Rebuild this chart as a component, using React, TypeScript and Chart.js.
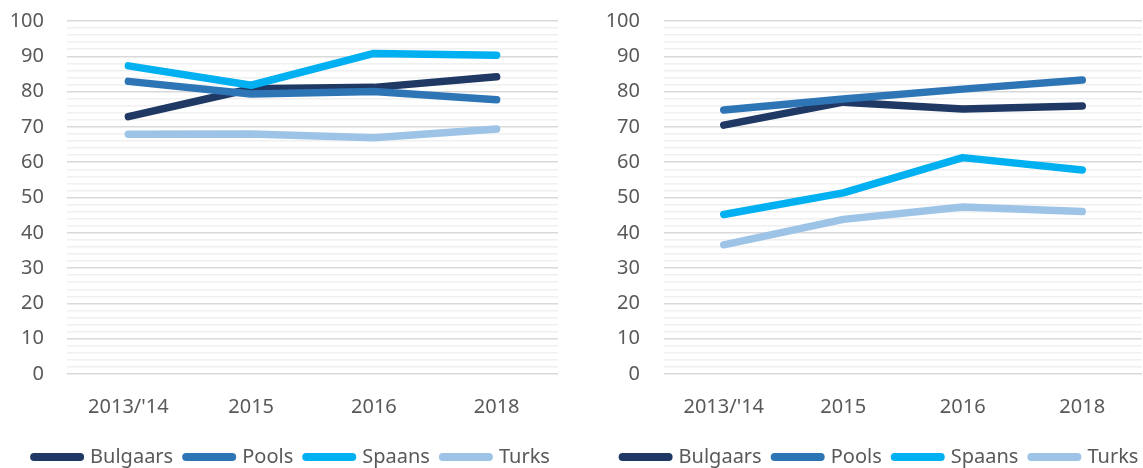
import React, { useEffect, useRef } from "react";
import { Chart, registerables } from "chart.js";

Chart.register(...registerables);

const categories = ["2013/'14", "2015", "2016", "2018"];
const seriesNames = ["Bulgaars", "Pools", "Spaans", "Turks"];
const seriesColors = ["#1F3864", "#2E75B6", "#00B0F0", "#9DC3E6"];

const leftBulgaars = [72.9, 80.8, 81.2, 84.2];
const leftPools = [82.9, 79.3, 80.0, 77.7];
const leftSpaans = [87.3, 81.8, 90.8, 90.3];
const leftTurks = [67.9, 68.0, 66.9, 69.4];

const rightBulgaars = [70.5, 77.0, 75.1, 75.9];
const rightPools = [74.8, 77.9, 80.7, 83.3];
const rightSpaans = [45.2, 51.3, 61.3, 57.8];
const rightTurks = [36.6, 43.8, 47.3, 46.0];

const yMin = 0;
const yMax = 100;
const yStep = 2;
const yLabelStep = 10;

const FONT = "'Noto Sans', sans-serif";
const TEXT = "#595959";

function buildConfig(series: number[][], yWidth: number, yGap: number, rightPad: number, legendShift: number): any {
  return {
    type: "line",
    data: {
      labels: categories,
      datasets: series.map((vals, i) => ({
        label: seriesNames[i],
        data: vals,
        borderColor: seriesColors[i],
        backgroundColor: seriesColors[i],
        borderWidth: 7.5,
        borderCapStyle: "round",
        borderJoinStyle: "round",
        pointRadius: 0,
        pointHoverRadius: 0,
        tension: 0,
        fill: false,
        order: series.length - 1 - i,
      })),
    },
    plugins: [
      {
        id: "legendShift",
        beforeDraw: (chart: any) => {
          const lg = chart.legend;
          if (lg && !lg._shifted) {
            lg.left += legendShift;
            lg.right += legendShift;
            lg._shifted = true;
          }
        },
      },
    ],
    options: {
      responsive: false,
      animation: false,
      layout: { padding: { top: 21, left: 0, right: rightPad, bottom: -9 } },
      plugins: {
        tooltip: { enabled: false },
        legend: {
          position: "bottom",
          labels: {
            usePointStyle: true,
            pointStyle: "line",
            pointStyleWidth: 46,
            boxHeight: 20,
            padding: 13,
            color: TEXT,
            font: { family: FONT, size: 20 },
            sort: (a: any, b: any) => a.datasetIndex - b.datasetIndex,
            generateLabels: (chart: any) =>
              (Chart.defaults as any).plugins.legend.labels
                .generateLabels(chart)
                .map((l: any) => ({ ...l, lineCap: "round", lineWidth: 8 })),
          },
        },
      },
      scales: {
        x: {
          type: "category",
          offset: true,
          grid: { display: false, drawTicks: false },
          border: { display: false },
          ticks: {
            color: TEXT,
            font: { family: FONT, size: 20 },
            padding: 21,
            maxRotation: 0,
          },
          afterFit: (scale: any) => {
            scale.height = 60;
          },
        },
        y: {
          min: yMin,
          max: yMax,
          border: { display: false },
          grid: {
            drawTicks: true,
            tickLength: yGap,
            tickColor: "rgba(0,0,0,0)",
            lineWidth: 1.5,
            color: (ctx: any) =>
              ctx.tick && ctx.tick.value % yLabelStep === 0 ? "#D9D9D9" : "#F0F0F0",
          },
          ticks: {
            stepSize: yStep,
            autoSkip: false,
            color: TEXT,
            font: { family: FONT, size: 20 },
            padding: 0,
            callback: (v: any) => (Number(v) % yLabelStep === 0 ? String(v) : ""),
          },
          afterFit: (scale: any) => {
            scale.width = yWidth;
          },
        },
      },
    },
  };
}

function LineChart(props: {
  series: number[][];
  width: number;
  yWidth: number;
  yGap: number;
  rightPad: number;
  legendShift: number;
}) {
  const ref = useRef<HTMLCanvasElement | null>(null);
  useEffect(() => {
    if (!ref.current) return;
    const chart = new Chart(
      ref.current,
      buildConfig(props.series, props.yWidth, props.yGap, props.rightPad, props.legendShift)
    );
    return () => chart.destroy();
  }, []);
  return (
    <canvas
      ref={ref}
      width={props.width}
      height={468}
      style={{ display: "block", width: props.width, height: 468 }}
    />
  );
}

export default function App() {
  return (
    <div
      style={{
        position: "fixed",
        left: 0,
        top: 0,
        width: 1143,
        height: 468,
        display: "flex",
        background: "#fff",
      }}
    >
      <LineChart
        series={[leftBulgaars, leftPools, leftSpaans, leftTurks]}
        width={571}
        yWidth={67}
        yGap={23}
        rightPad={13}
        legendShift={13}
      />
      <LineChart
        series={[rightBulgaars, rightPools, rightSpaans, rightTurks]}
        width={572}
        yWidth={93}
        yGap={24}
        rightPad={1}
        legendShift={24}
      />
    </div>
  );
}
